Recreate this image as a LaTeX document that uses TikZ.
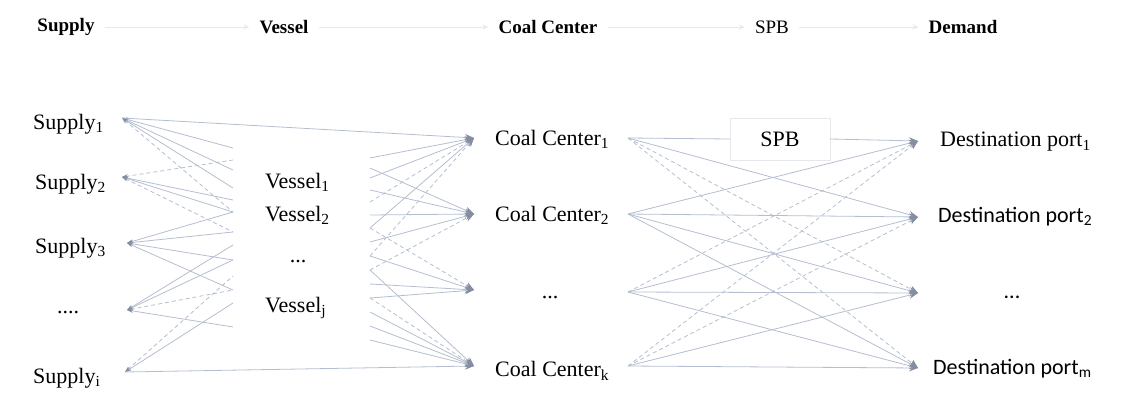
\documentclass[tikz,border=0pt]{standalone}
\usepackage{fontspec}
\setmainfont{Liberation Serif}
\newfontfamily\calib{Carlito}
\usetikzlibrary{arrows.meta}
\definecolor{lineblue}{HTML}{B4BED0}
\definecolor{tipgray}{HTML}{858EA0}
\definecolor{faint}{HTML}{E6E8EC}
\begin{document}
\begin{tikzpicture}[x=1pt,y=-1pt,
  lbl/.style={font=\fontsize{22}{25}\selectfont, inner sep=2pt},
  hdr/.style={font=\fontsize{19}{22}\selectfont\bfseries, inner sep=2pt},
  hdrn/.style={font=\fontsize{19}{22}\selectfont, inner sep=2pt},
  sans/.style={font=\calib\fontsize{22}{25}\selectfont, inner sep=2pt},
  ln/.style={draw=lineblue, line width=0.8pt},
  dl/.style={ln, dash pattern=on 4pt off 3pt},
  hl/.style={draw=faint, line width=0.8pt, -{Stealth[length=6pt,width=5pt]}, shorten >=8pt, shorten <=8pt},
  tip/.style={-{Stealth[length=9pt,width=7pt,color=tipgray]}},
  back/.style={{Stealth[length=6pt,width=4pt,color=tipgray]}-},
]
\useasboundingbox (0,0) rectangle (1124,404);

% header
\node[hdr] (hS) at (66,27) {Supply};
\node[hdr] (hV) at (284,27) {Vessel};
\node[hdr] (hC) at (548,27) {Coal Center};
\node[hdrn] (hP) at (772,27) {SPB};
\node[hdr] (hD) at (963,27) {Demand};
\draw[hl] (hS) -- (hV);
\draw[hl] (hV) -- (hC);
\draw[hl] (hC) -- (hP);
\draw[hl] (hP) -- (hD);

% supply column
\node[lbl,anchor=west] (s1) at (31,124) {Supply\textsubscript{1}};
\node[lbl,anchor=west] (s2) at (33,184) {Supply\textsubscript{2}};
\node[lbl,anchor=west] (s3) at (33,248) {Supply\textsubscript{3}};
\node[lbl] (s4) at (68,313) {....};
\node[lbl,anchor=west] (s5) at (31,378) {Supply\textsubscript{i}};
\coordinate (p1) at (122,118);
\coordinate (p2) at (122,177);
\coordinate (p3) at (127,243);
\coordinate (p4) at (127,310);
\coordinate (p5) at (125,372);

% vessel column
\node[minimum width=137pt, minimum height=192pt] (vbox) at (301,240) {};
\node[lbl,anchor=west] (v1) at (263,182) {Vessel\textsubscript{1}};
\node[lbl,anchor=west] (v2) at (263,215) {Vessel\textsubscript{2}};
\node[lbl] (v3) at (298,262) {...};
\node[lbl,anchor=west] (v4) at (263,308) {Vessel\textsubscript{j}};
\foreach \y in {148,160,170,188,200,212,232,245,260,276,290,303,327}
  \coordinate (vl\y) at (233,\y);
\foreach \y in {158,168,178,190,202,215,228,242,256,270,284,298,312,326,340}
  \coordinate (vr\y) at (370,\y);

% coal center column
\node[lbl,anchor=west] (cc1) at (493,139) {Coal Center\textsubscript{1}};
\node[lbl,anchor=west] (cc2) at (493,215) {Coal Center\textsubscript{2}};
\node[lbl] (cc3) at (550,298) {...};
\node[lbl,anchor=west] (cck) at (493,371) {Coal Center\textsubscript{k}};
\coordinate (ci1) at (474,138);
\coordinate (ci2) at (474,214);
\coordinate (ci3) at (474,290);
\coordinate (cik) at (474,366);
\coordinate (co1) at (628,138);
\coordinate (co2) at (628,214);
\coordinate (co3) at (628,292);
\coordinate (cok) at (628,366);

% SPB
\node[lbl, draw=faint, minimum width=100pt, minimum height=42pt] (spb) at (780,139) {SPB};

% destination column
\node[lbl,anchor=west] (d1) at (938,142) {Destination port\textsubscript{1}};
\node[sans,anchor=west] (d2) at (936,217) {Destination port\textsubscript{2}};
\node[sans] (d3) at (1012,297) {...};
\node[sans,anchor=west] (dm) at (931,369) {Destination port\textsubscript{m}};
\coordinate (di1) at (918,141);
\coordinate (di2) at (918,217);
\coordinate (di3) at (918,293);
\coordinate (dim) at (918,368);

% supply -> vessel
\draw[ln,back] (p1) -- (vl148);
\draw[ln,back] (p1) -- (vl170);
\draw[ln,back] (p1) -- (vl188);
\draw[dl,back] (p1) -- (vl212);
\draw[dl,back] (p2) -- (vl160);
\draw[ln,back] (p2) -- (vl200);
\draw[ln,back] (p2) -- (vl212);
\draw[dl,back] (p2) -- (vl232);
\draw[ln,back] (p3) -- (vl212);
\draw[ln,back] (p3) -- (vl232);
\draw[ln,back] (p3) -- (vl260);
\draw[ln,back] (p3) -- (vl290);
\draw[ln,back] (p4) -- (vl245);
\draw[ln,back] (p4) -- (vl260);
\draw[dl,back] (p4) -- (vl290);
\draw[ln,back] (p4) -- (vl327);
\draw[dl,back] (p5) -- (vl276);
\draw[ln,back] (p5) -- (vl303);

% long lines supply -> coal center
\draw[ln,tip] (p1) -- (ci1);
\draw[ln,tip] (p5) -- (cik);

% vessel -> coal center
\draw[ln,tip] (vr158) -- (ci1);
\draw[ln,tip] (vr178) -- (ci1);
\draw[dl,tip] (vr202) -- (ci1);
\draw[ln,tip] (vr228) -- (ci1);
\draw[dl,tip] (vr256) -- (ci1);
\draw[ln,tip] (vr168) -- (ci2);
\draw[ln,tip] (vr190) -- (ci2);
\draw[ln,tip] (vr215) -- (ci2);
\draw[ln,tip] (vr242) -- (ci2);
\draw[dl,tip] (vr270) -- (ci2);
\draw[dl,tip] (vr228) -- (ci3);
\draw[ln,tip] (vr256) -- (ci3);
\draw[ln,tip] (vr284) -- (ci3);
\draw[ln,tip] (vr298) -- (ci3);
\draw[ln,tip] (vr270) -- (cik);
\draw[dl,tip] (vr298) -- (cik);
\draw[ln,tip] (vr312) -- (cik);
\draw[ln,tip] (vr326) -- (cik);
\draw[ln,tip] (vr340) -- (cik);

% coal center -> SPB -> destination
\draw[ln] (co1) -- (spb.west);
\draw[ln,tip] (spb.east) -- (di1);

% coal center -> destination
\draw[ln,tip] (co1) -- (di2);
\draw[dl,tip] (co1) -- (di3);
\draw[dl,tip] (co1) -- (dim);
\draw[ln,tip] (co2) -- (di1);
\draw[ln,tip] (co2) -- (di2);
\draw[ln,tip] (co2) -- (di3);
\draw[ln,tip] (co2) -- (dim);
\draw[dl,tip] (co3) -- (di1);
\draw[ln,tip] (co3) -- (di2);
\draw[ln,tip] (co3) -- (di3);
\draw[ln,tip] (co3) -- (dim);
\draw[dl,tip] (cok) -- (di1);
\draw[dl,tip] (cok) -- (di2);
\draw[ln,tip] (cok) -- (di3);
\draw[ln,tip] (cok) -- (dim);
\end{tikzpicture}
\end{document}
